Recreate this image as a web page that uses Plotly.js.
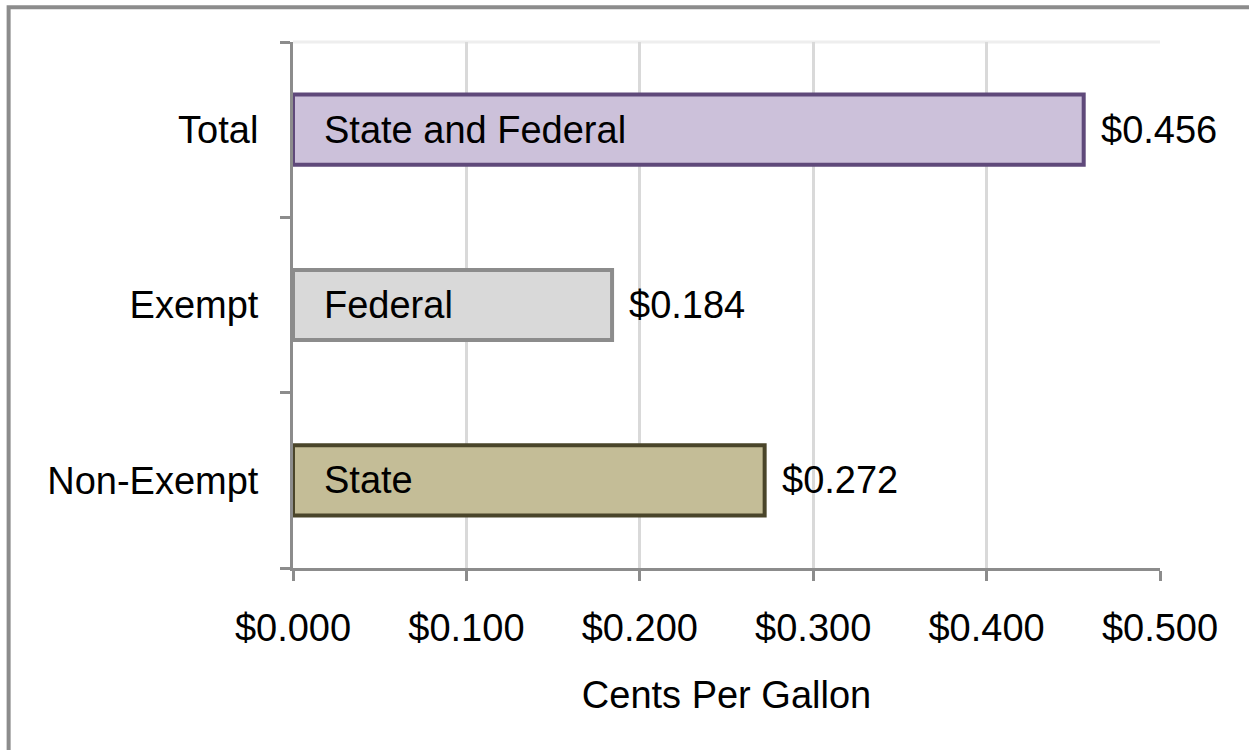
<!DOCTYPE html>
<html>
<head>
<meta charset="utf-8">
<script src="https://cdn.plot.ly/plotly-3.0.1.min.js"></script>
<style>
  html, body { margin: 0; padding: 0; background: #fff; }
  #chart { width: 1249px; height: 750px; }
</style>
</head>
<body>
<div id="chart"></div>
<script>
// categories bottom to top, as plotly draws them
var categories = ["Non-Exempt", "Exempt", "Total"];
var taxValues = [0.272, 0.184, 0.456];
var barLabels = ["State", "Federal", "State and Federal"];
var fillColors = ["#c4bd97", "#d9d9d9", "#ccc1da"];
var lineColors = ["#4a452a", "#8c8c8c", "#5f497a"];

var font = "Liberation Sans, Arial, sans-serif";
var axisGray = "#8c8c8c";
var fontSize = 38;

var bars = {
    type: "bar",
    orientation: "h",
    x: taxValues,
    y: categories,
    width: 0.4,
    marker: {
        color: fillColors,
        line: {color: lineColors, width: 4}
    },
    hoverinfo: "none"
};

// value labels outside bar ends, name labels inside bars
var annotations = [];
for (let i = 0; i < categories.length; i++){
    annotations.push({
        x: taxValues[i], y: categories[i],
        xref: "x", yref: "y",
        text: "$" + taxValues[i].toFixed(3),
        showarrow: false,
        xanchor: "left",
        xshift: 15,
        font: {family: font, size: fontSize, color: "#000"}
    });
    annotations.push({
        x: 0, y: categories[i],
        xref: "x", yref: "y",
        text: barLabels[i],
        showarrow: false,
        xanchor: "left",
        xshift: 29,
        font: {family: font, size: fontSize, color: "#000"}
    });
}

var layout = {
    width: 1249,
    height: 750,
    margin: {l: 293, r: 89, t: 42, b: 182},
    paper_bgcolor: "#fff",
    plot_bgcolor: "#fff",
    showlegend: false,
    font: {family: font, size: fontSize, color: "#000"},
    xaxis: {
        range: [0, 0.5],
        dtick: 0.1,
        tickformat: ".3f",
        tickprefix: "$",
        showgrid: true,
        gridcolor: "#d9d9d9",
        gridwidth: 3,
        zeroline: false,
        showline: true,
        linecolor: axisGray,
        linewidth: 3,
        ticks: "outside",
        ticklen: 10,
        tickwidth: 3,
        tickcolor: axisGray,
        ticklabelstandoff: 14,
        tickfont: {family: font, size: fontSize, color: "#000"},
        title: {text: "Cents Per Gallon", font: {family: font, size: fontSize, color: "#000"}, standoff: 34},
        fixedrange: true
    },
    yaxis: {
        type: "category",
        categoryorder: "array",
        categoryarray: categories,
        range: [-0.5, 2.5],
        showgrid: false,
        zeroline: false,
        showline: true,
        linecolor: axisGray,
        linewidth: 3,
        ticks: "outside",
        tickson: "boundaries",
        ticklen: 10,
        tickwidth: 3,
        tickcolor: axisGray,
        ticklabelstandoff: 24,
        tickfont: {family: font, size: fontSize, color: "#000"},
        fixedrange: true
    },
    annotations: annotations,
    shapes: [
        // light top edge of the plot area
        {type: "line", xref: "paper", yref: "paper", x0: 0, x1: 1, y0: 1, y1: 1,
         line: {color: "#eeeeee", width: 3}, layer: "below"},
        // outer chart frame, running off the right and bottom edges
        {type: "rect", xref: "paper", yref: "paper", x0: -0.328, x1: 1.3, y0: -0.6, y1: 1.066,
         line: {color: axisGray, width: 4}, fillcolor: "rgba(0,0,0,0)"}
    ]
};

Plotly.newPlot("chart", [bars], layout, {displayModeBar: false, staticPlot: true});
</script>
</body>
</html>
